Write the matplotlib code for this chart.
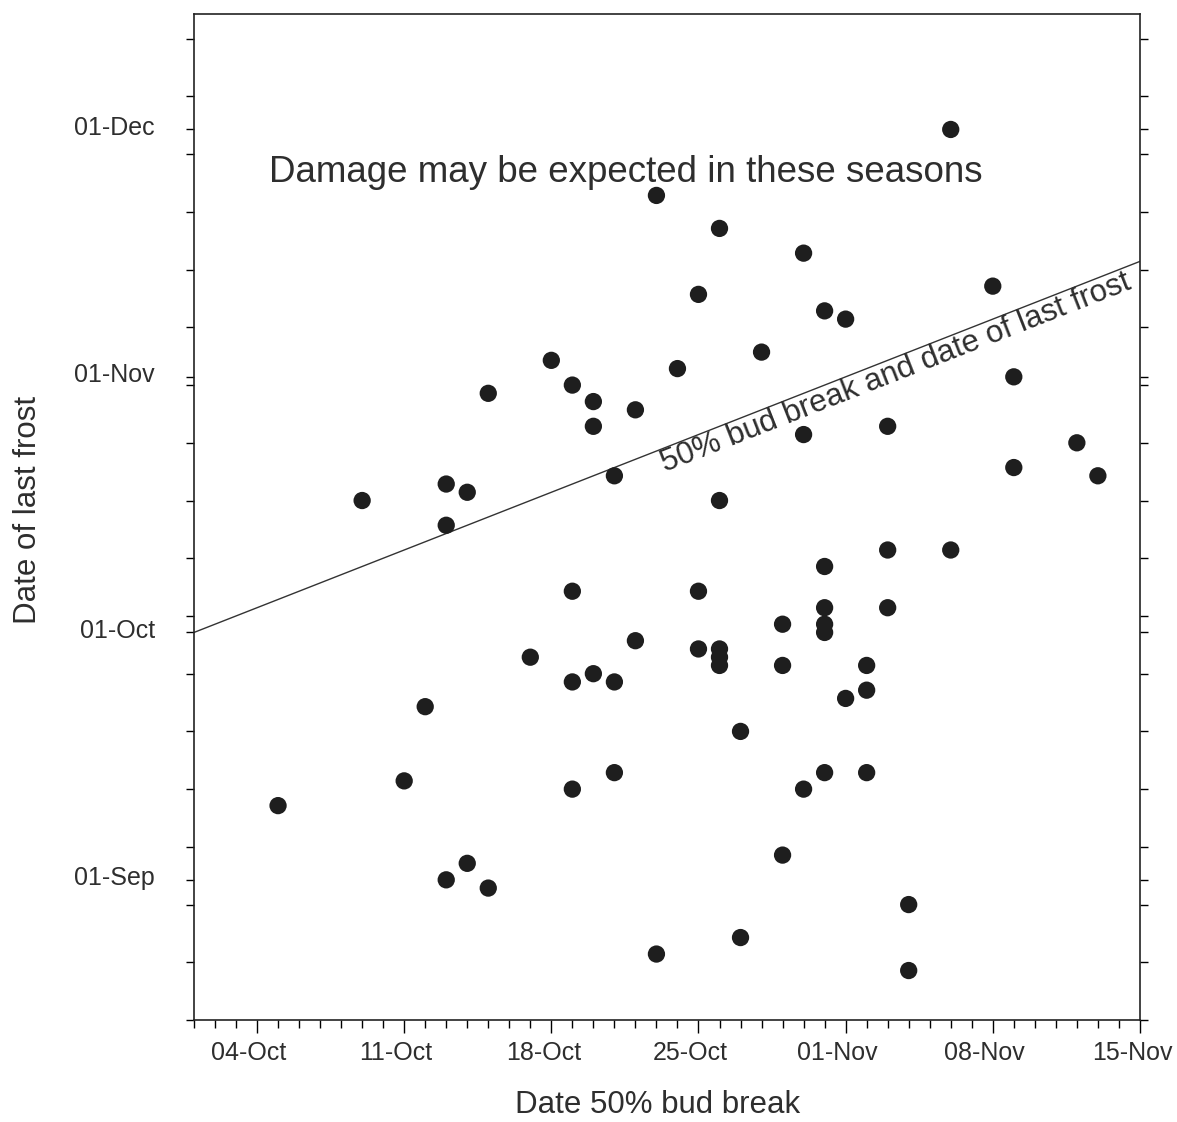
import matplotlib
matplotlib.use("Agg")
import matplotlib.dates as mdates
import matplotlib.pyplot as plt
import matplotlib.transforms as mtransforms
import numpy as np

plt.rcParams["font.family"] = ["Liberation Sans", "DejaVu Sans"]

YEAR = 2001

# date of 50% bud break (MM-DD)
bud_break = [
    "10-05", "10-09", "10-11", "10-12", "10-13", "10-13", "10-13", "10-14",
    "10-14", "10-15", "10-15", "10-17", "10-18", "10-19", "10-19", "10-19",
    "10-19", "10-20", "10-20", "10-20", "10-21", "10-21", "10-21", "10-22",
    "10-22", "10-23", "10-23", "10-24", "10-25", "10-25", "10-25", "10-26",
    "10-26", "10-26", "10-26", "10-26", "10-27", "10-27", "10-28", "10-29",
    "10-29", "10-29", "10-30", "10-30", "10-30", "10-31", "10-31", "10-31",
    "10-31", "10-31", "10-31", "11-01", "11-01", "11-02", "11-02", "11-02",
    "11-03", "11-03", "11-03", "11-04", "11-04", "11-06", "11-06", "11-08",
    "11-09", "11-09", "11-12", "11-13",
]

# date of last frost (MM-DD), same season order
last_frost = [
    "09-10", "10-17", "09-13", "09-22", "09-01", "10-19", "10-14", "09-03",
    "10-18", "08-31", "10-30", "09-28", "11-03", "09-12", "09-25", "10-06",
    "10-31", "09-26", "10-29", "10-26", "09-14", "09-25", "10-20", "09-30",
    "10-28", "08-23", "11-23", "11-02", "10-06", "09-29", "11-11", "09-29",
    "09-28", "09-27", "10-17", "11-19", "08-25", "09-19", "11-04", "09-04",
    "10-02", "09-27", "09-12", "10-25", "11-16", "09-14", "10-04", "10-02",
    "10-01", "10-09", "11-09", "09-23", "11-08", "09-14", "09-27", "09-24",
    "10-04", "10-11", "10-26", "08-21", "08-29", "10-11", "12-01", "11-12",
    "10-21", "11-01", "10-24", "10-20",
]


def to_dates(md):
    return np.array([np.datetime64(f"{YEAR}-{s}") for s in md])


x = to_dates(bud_break)
y = to_dates(last_frost)

x0, x1 = np.datetime64(f"{YEAR}-10-01"), np.datetime64(f"{YEAR}-11-15")
y0, y1 = np.datetime64(f"{YEAR}-08-15"), np.datetime64(f"{YEAR}-12-15")

fig = plt.figure(figsize=(11.77, 11.22), dpi=100)
ax = fig.add_axes([0.1648, 0.0909, 0.8037, 0.8966])

ax.scatter(x, y, s=155, color="#1e1e1e", edgecolors="none", zorder=3)

# 1:1 line - bud break on the same day as last frost
ax.plot([x0, x1], [x0, x1], color="#333333", lw=1.0)
ax.text(np.datetime64(f"{YEAR}-10-23"), np.datetime64(f"{YEAR}-10-23"),
        "50% bud break and date of last frost", rotation=45,
        transform_rotates_text=True, rotation_mode="anchor",
        ha="left", va="top", fontsize=22.5, color="#2e2e2e")

ax.text(0.457, 0.842, "Damage may be expected in these seasons",
        transform=ax.transAxes, ha="center", va="center",
        fontsize=26.5, color="#2e2e2e")

ax.set_xlim(x0, x1)
ax.set_ylim(y0, y1)

ax.xaxis.set_major_locator(
    matplotlib.ticker.FixedLocator(mdates.date2num(np.arange(
        np.datetime64(f"{YEAR}-10-04"), x1 + 1, 7))))
ax.xaxis.set_minor_locator(
    matplotlib.ticker.FixedLocator(mdates.date2num(np.arange(x0, x1 + 1, 1))))
ax.yaxis.set_major_locator(mdates.MonthLocator(bymonthday=1))
ax.yaxis.set_minor_locator(
    matplotlib.ticker.FixedLocator(mdates.date2num(np.arange(y0, y1 + 1, 7))))
fmt = mdates.DateFormatter("%d-%b")
ax.xaxis.set_major_formatter(fmt)
ax.yaxis.set_major_formatter(fmt)

ax.tick_params(axis="x", which="major", length=9, width=1.0, pad=6,
               labelsize=18, labelcolor="#2e2e2e")
ax.tick_params(axis="x", which="minor", length=6, width=1.0)
ax.tick_params(axis="y", which="both", length=6, width=1.0, right=True,
               direction="out")
ax.tick_params(axis="y", which="major", pad=22, labelsize=18,
               labelcolor="#2e2e2e")

# labels in the original sit a little left of / above their ticks
dx = mtransforms.ScaledTranslation(-8 / 100, 0, fig.dpi_scale_trans)
for lab in ax.get_xticklabels():
    lab.set_transform(lab.get_transform() + dx)
dy = mtransforms.ScaledTranslation(0, 4 / 100, fig.dpi_scale_trans)
for lab in ax.get_yticklabels():
    lab.set_transform(lab.get_transform() + dy)

for sp in ax.spines.values():
    sp.set_linewidth(1.2)
    sp.set_color("#222222")

fig.text(658 / 1177, 1 - 1105 / 1122, "Date 50% bud break", ha="center",
         va="center", fontsize=22.5, color="#2e2e2e")
fig.text(28 / 1177, 1 - 510 / 1122, "Date of last frost", ha="center",
         va="center", rotation=90, fontsize=22.5, color="#2e2e2e")

fig.savefig("out.png", dpi=100)
